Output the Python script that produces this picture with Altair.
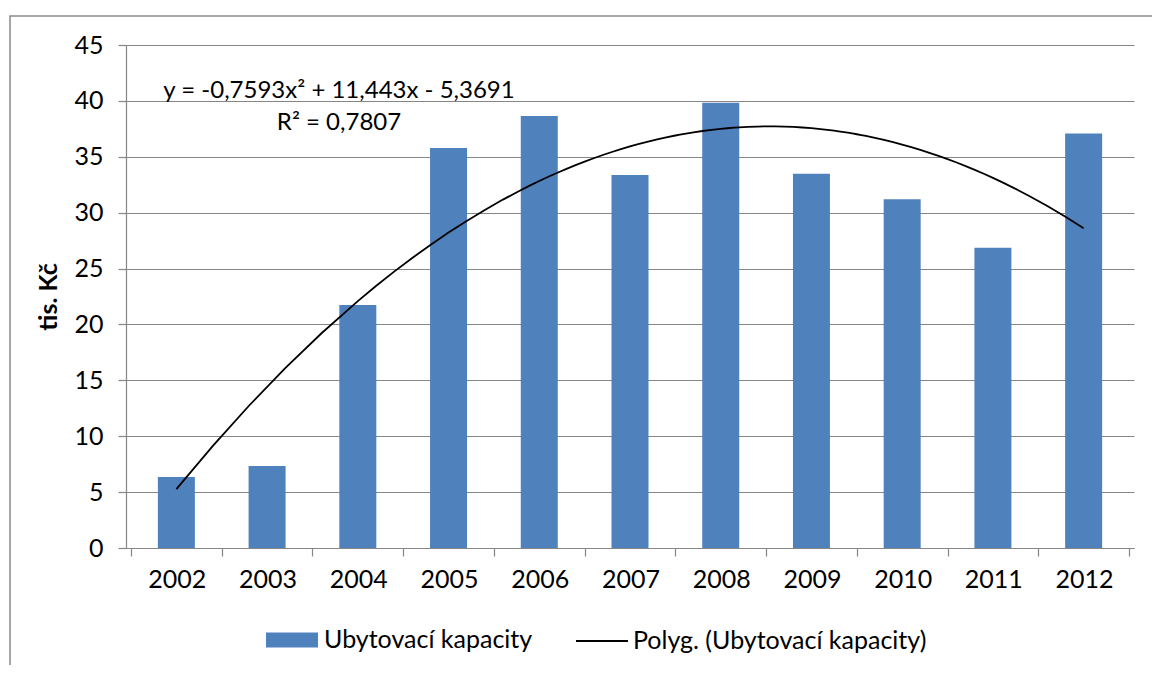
import json
import altair as alt
import pandas as pd

YEARS = [2002, 2003, 2004, 2005, 2006, 2007, 2008, 2009, 2010, 2011, 2012]
VALUES = [6.35, 7.33, 21.74, 35.78, 38.64, 33.36, 39.83, 33.48, 31.19, 26.86, 37.09]
SERIES_BAR = "Ubytovací kapacity"
SERIES_TREND = "Polyg. (Ubytovací kapacity)"
EQUATION = ["y = -0,7593x² + 11,443x - 5,3691", "R² = 0,7807"]
Y_TICKS = [0, 5, 10, 15, 20, 25, 30, 35, 40, 45]

df = pd.DataFrame({"year": YEARS, "value": VALUES})
n = len(YEARS)
FONT = "Lato"
FS = 25
W, H = 1008, 503
step = W / n

x_ticks = [i + 0.5 for i in range(n + 1)]
label_expr = f"{json.dumps([str(y) for y in YEARS])}[datum.value - 0.5] || ''"

base = alt.Chart(df).transform_calculate(
    idx=f"datum.year - {YEARS[0] - 1}"
)

x_enc = alt.X(
    "idx:Q",
    scale=alt.Scale(domain=[0.5, n + 0.5], nice=False, zero=False),
    axis=alt.Axis(
        values=x_ticks, labelExpr=label_expr, labelOffset=step / 2,
        labelFlush=False, labelOverlap=False, labelBound=False,
        grid=False, title=None, tickSize=8, labelPadding=11,
        labelFontSize=FS, labelFont=FONT, labelColor="#000",
        domainColor="#868686", tickColor="#868686", domainWidth=1.2, tickWidth=1.2,
    ),
)
y_enc = alt.Y(
    "value:Q",
    scale=alt.Scale(domain=[0, 45], nice=False),
    axis=alt.Axis(
        values=Y_TICKS, title="tis. Kč", titleFont=FONT, titleFontSize=FS,
        titleFontWeight="bold", titleColor="#000", titlePadding=12,
        tickSize=8, labelPadding=15, labelFontSize=FS, labelFont=FONT,
        labelColor="#000", gridColor="#868686", gridWidth=1.2,
        domainColor="#868686", tickColor="#868686", domainWidth=1.2, tickWidth=1.2,
    ),
)

# chart-area frame (decorative border as in the reference)
frame = alt.Chart(pd.DataFrame({"t": [0]})).mark_rect(
    fillOpacity=0, stroke="#8a8a8a", strokeWidth=1.5
).encode(
    x=alt.value(-116), x2=alt.value(1100), y=alt.value(-29), y2=alt.value(700)
)

bars = base.transform_calculate(series=f"'{SERIES_BAR}'").mark_bar(size=37).encode(
    x=x_enc,
    y=y_enc,
    fill=alt.Fill(
        "series:N",
        scale=alt.Scale(domain=[SERIES_BAR], range=["#4F81BD"]),
        legend=alt.Legend(
            title=None, orient="none", legendX=140, legendY=569,
            symbolType="M-1,-0.29H1V0.29H-1Z", symbolSize=2704,
            labelFont=FONT, labelFontSize=FS, labelColor="#000", labelOffset=6,
            symbolStrokeWidth=0, labelLimit=0,
        ),
    ),
)

trend = base.transform_regression(
    "idx", "value", method="poly", order=2
).transform_calculate(series=f"'{SERIES_TREND}'").mark_line(strokeWidth=1.8).encode(
    x="idx:Q",
    y="value:Q",
    stroke=alt.Stroke(
        "series:N",
        scale=alt.Scale(domain=[SERIES_TREND], range=["#000000"]),
        legend=alt.Legend(
            title=None, orient="none", legendX=449, legendY=569,
            symbolType="stroke", symbolSize=2704, symbolStrokeWidth=1.8,
            labelFont=FONT, labelFontSize=FS, labelColor="#000", labelOffset=4,
            labelLimit=0,
        ),
    ),
)

annot = alt.Chart(pd.DataFrame({"t": [0]})).mark_text(
    font=FONT, fontSize=24, align="center", baseline="alphabetic",
    lineHeight=32, color="#000",
).encode(
    x=alt.value(213), y=alt.value(53), text=alt.value(EQUATION)
)

chart = alt.layer(frame, bars, trend, annot).properties(
    width=W, height=H,
    autosize=alt.AutoSizeParams(type="none"),
    padding={"left": 118, "top": 37, "right": 18, "bottom": 117},
).configure_view(stroke=None)

chart.save("out.html", embed_options={"renderer": "svg", "actions": False})
